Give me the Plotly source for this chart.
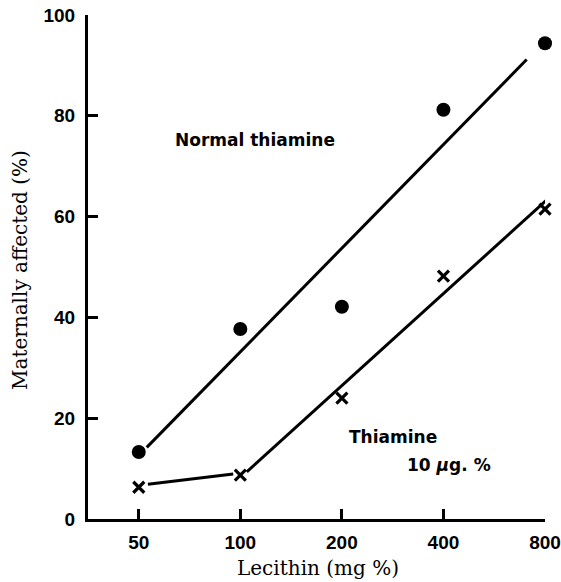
import numpy as np
import plotly.graph_objects as go

# Data
lecithin = [50, 100, 200, 400, 800]
normal_thiamine = [13.3, 37.7, 42.1, 81.2, 94.4]
low_thiamine = [6.3, 8.7, 24.0, 48.2, 61.5]
x_ticks = [50, 100, 200, 400, 800]
y_ticks = [0, 20, 40, 60, 80, 100]
# fitted line extents (mg %)
normal_fit_range = [52.8, 706]
low_fit_range = [104.5, 845]

d = np.log2(np.array(lecithin) / 50.0)

# regression lines in log space
b1, a1 = np.polyfit(d, normal_thiamine, 1)
b2, a2 = np.polyfit(d[1:], low_thiamine[1:], 1)

def fit_line(rng, a, b):
    xs = np.array(rng, dtype=float)
    dd = np.log2(xs / 50.0)
    return xs, a + b * dd

nx, ny = fit_line(normal_fit_range, a1, b1)
lx, ly = fit_line(low_fit_range, a2, b2)

# short segment between first two crosses (trimmed)
d0, d1 = d[0], d[1]
y0, y1 = low_thiamine[0], low_thiamine[1]
ts = np.array([0.09, 0.93])
seg_x = 50.0 * 2 ** (d0 + ts * (d1 - d0))
seg_y = y0 + ts * (y1 - y0) + 0.4

fig = go.Figure()
line_style = dict(color="black", width=3)
fig.add_trace(go.Scatter(x=nx, y=ny, mode="lines", line=line_style, hoverinfo="skip", cliponaxis=False))
fig.add_trace(go.Scatter(x=lx, y=ly, mode="lines", line=line_style, hoverinfo="skip", cliponaxis=False))
fig.add_trace(go.Scatter(x=seg_x, y=seg_y, mode="lines", line=line_style, hoverinfo="skip"))
fig.add_trace(go.Scatter(x=lecithin, y=normal_thiamine, mode="markers", cliponaxis=False,
                         marker=dict(symbol="circle", size=14, color="black")))
fig.add_trace(go.Scatter(x=lecithin, y=low_thiamine, mode="markers", cliponaxis=False,
                         marker=dict(symbol="x-thin", size=11,
                                     line=dict(color="black", width=3.2))))

ann_font = dict(family="DejaVu Sans", size=17, color="black", weight="bold")
fig.add_annotation(x=np.log10(110.4), y=75.2, text="Normal thiamine", showarrow=False,
                   xanchor="center", yanchor="middle", font=ann_font)
fig.add_annotation(x=np.log10(207), y=16.3, text="Thiamine", showarrow=False,
                   xanchor="left", yanchor="middle", font=ann_font)
fig.add_annotation(x=np.log10(307.7), y=10.7, text="10 <i>µ</i>g. %", showarrow=False,
                   xanchor="left", yanchor="middle", font=ann_font)

title_font = dict(family="DejaVu Serif", size=20, color="black")
fig.add_annotation(xref="paper", yref="paper", x=0.503, y=0, yshift=-49,
                   text="Lecithin (mg %)", showarrow=False,
                   xanchor="center", yanchor="middle", font=title_font)
fig.add_annotation(xref="paper", yref="paper", x=0, y=0.494, xshift=-68,
                   text="Maternally affected (%)", showarrow=False, textangle=-90,
                   xanchor="center", yanchor="middle", font=title_font)

fig.update_layout(
    width=561, height=582,
    margin=dict(l=88, r=16, t=15, b=63, autoexpand=False),
    paper_bgcolor="white", plot_bgcolor="white",
    showlegend=False,
)
tick_font = dict(family="Liberation Sans", size=19, color="black", weight="bold")
fig.update_xaxes(
    type="log", range=[np.log10(50 / np.sqrt(2)), np.log10(800)],
    tickvals=x_ticks, ticktext=[str(v) for v in x_ticks],
    ticks="inside", ticklen=10, tickwidth=2.5, tickcolor="black",
    showline=True, linecolor="black", linewidth=3, showgrid=False, zeroline=False,
    tickfont=tick_font, automargin=False, ticklabeloverflow="allow", ticklabelstandoff=4,
)
fig.update_yaxes(
    range=[0, 100], tickvals=y_ticks, ticktext=[str(v) for v in y_ticks],
    ticks="inside", ticklen=10, tickwidth=2.5, tickcolor="black",
    showline=True, linecolor="black", linewidth=3, showgrid=False, zeroline=False,
    tickfont=tick_font, automargin=False, ticklabeloverflow="allow", ticklabelstandoff=6,
)

fig.write_html("out.html", config={"displayModeBar": False},
               post_script="document.body.style.margin='0';document.body.style.padding='0';")
